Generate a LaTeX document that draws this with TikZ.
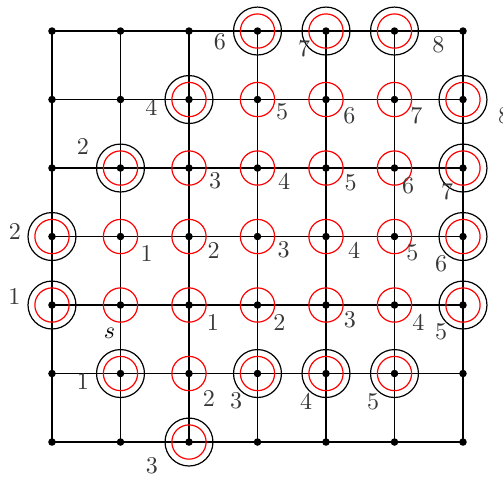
\documentclass[tikz,border=0pt]{standalone}
\usetikzlibrary{calc}
\begin{document}
\begin{tikzpicture}[
  dot/.style={circle,fill=black,inner sep=0pt,minimum size=0.11cm},
  gridline/.style={line width=0.7pt},
  redring/.style={red,line width=0.5pt},
  blackring/.style={black,line width=0.5pt},
  lab/.style={text=black!78,inner sep=0pt}
]
\useasboundingbox (-0.759,-0.540) rectangle (6.584,6.453);
\foreach \i in {0,...,6}{
  \foreach \j in {0,...,6}{
    \coordinate (c-\i-\j) at (\i,\j);
  }
}
\foreach \k in {0,...,6}{
  \draw[gridline] (c-0-\k) -- (c-6-\k);
  \draw[gridline] (c-\k-0) -- (c-\k-6);
}
% red rings
\foreach \i/\j in {3/6,4/6,5/6,2/5,3/5,4/5,5/5,6/5,1/4,2/4,3/4,4/4,5/4,6/4,
  0/3,1/3,2/3,3/3,4/3,5/3,6/3,0/2,1/2,2/2,3/2,4/2,5/2,6/2,1/1,2/1,3/1,4/1,5/1,2/0}{
  \draw[redring] (c-\i-\j) circle (0.25);
}
% black rings
\foreach \i/\j in {3/6,4/6,5/6,2/5,6/5,1/4,6/4,0/3,6/3,0/2,6/2,1/1,3/1,4/1,5/1,2/0}{
  \draw[blackring] (c-\i-\j) circle (0.35);
}
% dots
\foreach \i in {0,...,6}{
  \foreach \j in {0,...,6}{
    \node[dot] (n-\i-\j) at (c-\i-\j) {};
  }
}
% labels
\foreach \i/\j/\dx/\dy/\t [count=\n] in {
  3/6/-0.55/-0.15/6, 4/6/-0.32/-0.25/7, 5/6/0.64/-0.2/8,
  2/5/-0.55/-0.12/4, 3/5/0.36/-0.18/5, 4/5/0.34/-0.23/6, 5/5/0.32/-0.23/7, 6/5/0.6/-0.23/8,
  1/4/-0.55/0.32/2, 2/4/0.38/-0.19/3, 3/4/0.39/-0.19/4, 4/4/0.36/-0.22/5, 5/4/0.2/-0.26/6, 6/4/-0.23/-0.35/7,
  0/3/-0.54/0.07/2, 1/3/0.38/-0.25/1, 2/3/0.36/-0.2/2, 3/3/0.38/-0.19/3, 4/3/0.41/-0.2/4, 5/3/0.26/-0.23/5, 6/3/-0.32/-0.39/6,
  0/2/-0.55/0.12/1, 2/2/0.35/-0.26/1, 3/2/0.32/-0.26/2, 4/2/0.35/-0.22/3, 5/2/0.35/-0.26/4, 6/2/-0.32/-0.39/5,
  1/1/-0.55/-0.12/1, 2/1/0.29/-0.36/2, 3/1/-0.31/-0.39/3, 4/1/-0.29/-0.41/4, 5/1/-0.31/-0.41/5,
  2/0/-0.54/-0.35/3}{
  \node[lab] (l-\n) at ($(n-\i-\j)+(\dx,\dy)$) {\t};
}
\node[inner sep=0pt] (l-s) at ($(n-1-2)+(-0.16,-0.41)$) {$s$};
\end{tikzpicture}
\end{document}
